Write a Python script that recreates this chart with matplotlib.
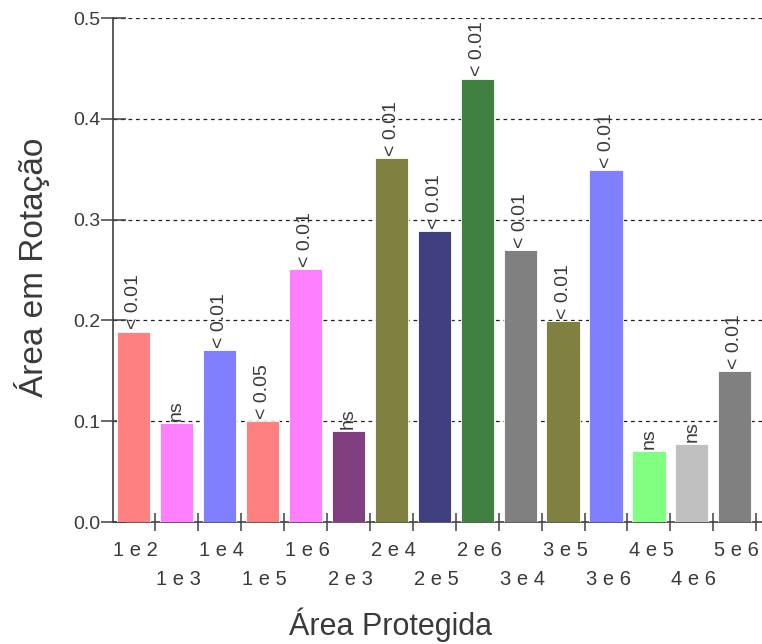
import numpy as np
import matplotlib.pyplot as plt

plt.rcParams['font.family'] = ['Liberation Sans', 'DejaVu Sans']

# dados
pares = ["1 e 2", "1 e 3", "1 e 4", "1 e 5", "1 e 6", "2 e 3", "2 e 4", "2 e 5",
         "2 e 6", "3 e 4", "3 e 5", "3 e 6", "4 e 5", "4 e 6", "5 e 6"]
valores = [0.189, 0.098, 0.171, 0.100, 0.251, 0.090, 0.361, 0.289,
           0.440, 0.270, 0.199, 0.349, 0.070, 0.077, 0.150]
signif = ["< 0.01", "ns", "< 0.01", "< 0.05", "< 0.01", "hs", "< 0.01", "< 0.01",
          "< 0.01", "< 0.01", "< 0.01", "< 0.01", "ns", "ns", "< 0.01"]
cores = ["#FF8080", "#FF80FF", "#8080FF", "#FF8080", "#FF80FF", "#804080", "#808040", "#404080",
         "#408040", "#808080", "#808040", "#8080FF", "#80FF80", "#C0C0C0", "#808080"]

texto = '#3a3a3a'
eixo = '#404040'

fig = plt.figure(figsize=(7.62, 6.44), dpi=100)
ax = fig.add_axes([0.148, 0.1894, 0.852, 0.7826])

x = np.arange(len(valores))
ax.bar(x, valores, width=0.77, color=cores, edgecolor='white', linewidth=0.6, zorder=3)

# rótulos de significância acima das barras
for xi, v, s in zip(x, valores, signif):
    ax.annotate(s, xy=(xi, v), xytext=(0, 1.5), textcoords='offset points',
                rotation=90, ha='center', va='bottom', fontsize=14, color=texto,
                zorder=4, annotation_clip=False)

# grade horizontal tracejada
for g in [0.1, 0.2, 0.3, 0.4, 0.5]:
    ax.axhline(g, color='#202020', linestyle=(0, (3, 3)), linewidth=0.9, zorder=1)

ax.set_xlim(-0.477, 14.63)
ax.set_ylim(0, 0.5)
ax.set_yticks([0.0, 0.1, 0.2, 0.3, 0.4, 0.5])
ax.set_yticklabels(["0.0", "0.1", "0.2", "0.3", "0.4", "0.5"])
ax.set_xticks(x + 0.5)
ax.set_xticklabels([])

ax.tick_params(axis='y', direction='inout', length=18, width=1.1, color=eixo,
               labelsize=14, labelcolor=texto, pad=0)
ax.tick_params(axis='x', direction='inout', length=13, width=1.1, color=eixo)

for lado in ['top', 'right']:
    ax.spines[lado].set_visible(False)
for lado in ['left', 'bottom']:
    ax.spines[lado].set_color(eixo)
    ax.spines[lado].set_linewidth(1.2)

# rótulos dos pares em duas linhas alternadas
trans = ax.get_xaxis_transform()
for xi, p in zip(x, pares):
    dy = -28 if xi % 2 == 0 else -57
    ax.annotate(p, xy=(xi, 0), xycoords=trans, xytext=(2, dy), textcoords='offset pixels',
                ha='center', va='center', fontsize=14.5, color=texto)

fig.text(0.042, 0.585, "Área em Rotação", rotation=90, ha='center', va='center',
         fontsize=24, color=texto)
fig.text(0.512, 0.014, "Área Protegida", ha='center', va='baseline',
         fontsize=22, color=texto)

plt.savefig("out.png", dpi=100)
